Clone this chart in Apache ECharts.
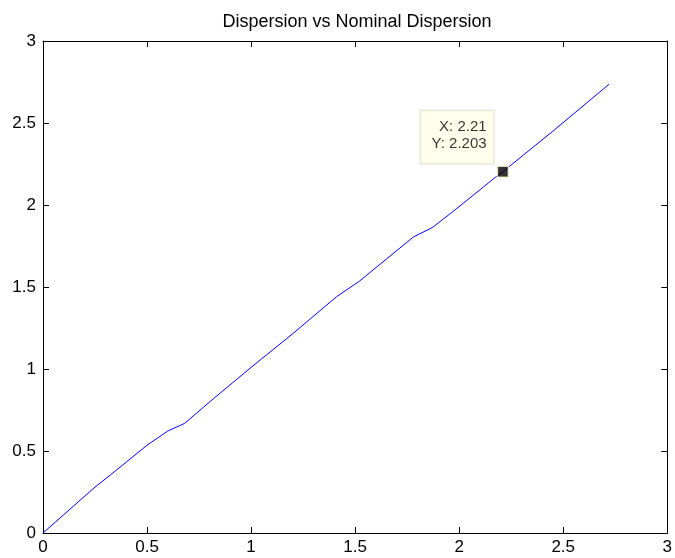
<!DOCTYPE html>
<html>
<head>
<meta charset="utf-8">
<script src="https://cdn.jsdelivr.net/npm/echarts@6/dist/echarts.min.js"></script>
<style>
  html, body { margin: 0; padding: 0; background: #fff; }
  #chart { width: 675px; height: 558px; }
</style>
</head>
<body>
<div id="chart"></div>
<script>
// Measured dispersion against nominal dispersion
const nominal = [0, 0.25, 0.33, 0.50, 0.60, 0.68, 0.82, 1.00, 1.20, 1.41, 1.52, 1.65, 1.78, 1.87, 1.96, 2.07, 2.17, 2.21, 2.45, 2.72];
const dispersion = [0, 0.28, 0.36, 0.535, 0.622, 0.668, 0.82, 1.01, 1.215, 1.44, 1.535, 1.67, 1.805, 1.862, 1.95, 2.062, 2.165, 2.203, 2.45, 2.736];

// Data tip point
const tipX = 2.21;
const tipY = 2.203;

const xTicks = [0, 0.5, 1, 1.5, 2, 2.5, 3];
const yTicks = [0, 0.5, 1, 1.5, 2, 2.5, 3];

const font = 'Liberation Sans, Arial, sans-serif';

const chart = echarts.init(document.getElementById('chart'));

const baseAxis = {
  min: 0,
  max: 3,
  interval: 0.5,
  axisLine: { show: true, onZero: false, lineStyle: { color: '#000', width: 1 } },
  axisTick: { show: true, inside: true, length: 6, lineStyle: { color: '#000' } },
  splitLine: { show: false },
  axisLabel: { color: '#000', fontSize: 17, fontFamily: font }
};

chart.setOption({
  backgroundColor: '#fff',
  animation: false,
  title: {
    text: 'Dispersion vs Nominal Dispersion',
    left: 352,
    textAlign: 'center',
    top: 8,
    textStyle: { color: '#000', fontSize: 18, fontWeight: 'normal', fontFamily: font }
  },
  grid: { left: 43, right: 6, top: 41, bottom: 25 },
  xAxis: [
    Object.assign({}, baseAxis, {
      type: 'value', position: 'bottom',
      axisLabel: Object.assign({}, baseAxis.axisLabel, {
        margin: 6,
        formatter: v => xTicks.includes(v) ? String(v) : ''
      })
    }),
    Object.assign({}, baseAxis, {
      type: 'value', position: 'top',
      axisLabel: { show: false }
    })
  ],
  yAxis: [
    Object.assign({}, baseAxis, {
      type: 'value', position: 'left',
      axisLabel: Object.assign({}, baseAxis.axisLabel, {
        margin: 7,
        formatter: v => yTicks.includes(v) ? String(v) : ''
      })
    }),
    Object.assign({}, baseAxis, {
      type: 'value', position: 'right',
      axisLabel: { show: false }
    })
  ],
  series: [
    {
      type: 'line',
      data: nominal.map((x, i) => [x, dispersion[i]]),
      showSymbol: false,
      lineStyle: { color: '#0000ff', width: 1 },
      itemStyle: { color: '#0000ff' },
      silent: true
    },
    {
      type: 'scatter',
      data: [[tipX, tipY]],
      symbol: 'rect',
      symbolSize: 11,
      itemStyle: { color: '#000', borderColor: '#fffbd0', borderWidth: 1.5 },
      silent: true,
      z: 5,
      label: {
        show: true,
        position: [-76, -55],
        formatter: '{t|X: ' + tipX + '}\n{t|Y: ' + tipY + '}',
        backgroundColor: '#ffffe6',
        borderColor: '#d8d8cc',
        borderWidth: 1,
        padding: [8, 7, 11, 9],
        rich: {
          t: {
            width: 57,
            align: 'right',
            fontSize: 15,
            lineHeight: 17,
            color: '#000',
            fontFamily: font
          }
        }
      }
    }
  ]
});
</script>
</body>
</html>
